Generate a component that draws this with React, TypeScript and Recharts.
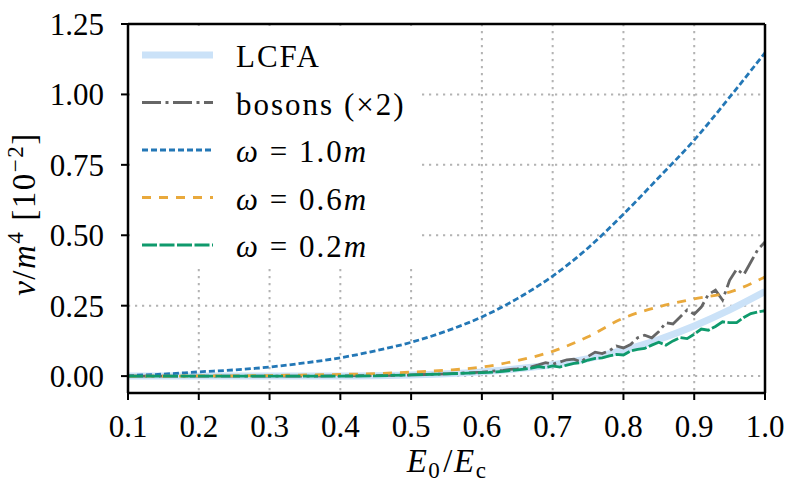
import { LineChart, Line, XAxis, YAxis, CartesianGrid, Legend, ReferenceLine } from 'recharts';

const FONT = '"Liberation Serif", "Times New Roman", serif';

const xTicks = [0.1, 0.2, 0.3, 0.4, 0.5, 0.6, 0.7, 0.8, 0.9, 1.0];
const yTicks = [0, 0.25, 0.5, 0.75, 1.0, 1.25];

// smooth curves
const xCoarse = [0.1, 0.15, 0.2, 0.25, 0.3, 0.35, 0.4, 0.45, 0.5, 0.55, 0.6, 0.65, 0.7, 0.75, 0.8, 0.85, 0.9, 0.95, 1.0];
const lcfa = [0, 0, 0, 0, 0, 0, 0, 0.001, 0.004, 0.008, 0.015, 0.026, 0.04, 0.062, 0.092, 0.13, 0.178, 0.235, 0.3];
const omega10 = [0.002, 0.007, 0.015, 0.022, 0.032, 0.047, 0.065, 0.09, 0.12, 0.16, 0.21, 0.275, 0.355, 0.455, 0.575, 0.705, 0.838, 0.99, 1.148];
const omega06 = [0, 0, 0.0005, 0.001, 0.002, 0.004, 0.006, 0.009, 0.014, 0.021, 0.032, 0.055, 0.088, 0.14, 0.206, 0.246, 0.274, 0.298, 0.352];

// wiggly curves
const xFine = [
  0.1, 0.15, 0.2, 0.25, 0.3, 0.35, 0.4, 0.45, 0.5, 0.55,
  0.6, 0.61, 0.62, 0.63, 0.64, 0.65, 0.66, 0.67, 0.68, 0.69,
  0.7, 0.71, 0.72, 0.73, 0.74, 0.75, 0.76, 0.77, 0.78, 0.79,
  0.8, 0.81, 0.82, 0.83, 0.84, 0.85, 0.86, 0.87, 0.88, 0.89,
  0.9, 0.91, 0.92, 0.93, 0.94, 0.95, 0.96, 0.97, 0.98, 0.99, 1.0,
];
const bosons = [
  0, 0, 0, 0, 0, 0, 0.001, 0.002, 0.004, 0.008,
  0.014, 0.016, 0.019, 0.02, 0.024, 0.026, 0.03, 0.033, 0.04, 0.048,
  0.042, 0.05, 0.058, 0.06, 0.05, 0.07, 0.085, 0.08, 0.09, 0.107,
  0.1, 0.112, 0.136, 0.145, 0.136, 0.158, 0.19, 0.185, 0.21, 0.235,
  0.22, 0.245, 0.29, 0.305, 0.27, 0.34, 0.38, 0.36, 0.405, 0.45, 0.476,
];
const omega02 = [
  0, 0, 0, 0, 0, 0, 0, 0.001, 0.004, 0.008,
  0.012, 0.013, 0.015, 0.017, 0.02, 0.022, 0.025, 0.028, 0.034, 0.03,
  0.036, 0.032, 0.039, 0.045, 0.048, 0.057, 0.063, 0.065, 0.072, 0.077,
  0.075, 0.089, 0.095, 0.098, 0.11, 0.12, 0.11, 0.125, 0.137, 0.133,
  0.149, 0.167, 0.163, 0.176, 0.193, 0.19, 0.19, 0.208, 0.222, 0.228, 0.232,
];

const toPoints = (xs: number[], ys: number[]) => xs.map((x, i) => ({ x, y: ys[i] }));

const series = [
  { key: 'lcfa', data: toPoints(xCoarse, lcfa), color: '#cbe2f8', width: 7, dash: undefined, type: 'monotone' },
  { key: 'bosons', data: toPoints(xFine, bosons), color: '#666666', width: 2.8, dash: '19 4.5 3 4.5', type: 'linear' },
  { key: 'w10', data: toPoints(xCoarse, omega10), color: '#2377b6', width: 2.8, dash: '6 3', type: 'monotone' },
  { key: 'w06', data: toPoints(xCoarse, omega06), color: '#e9a93c', width: 2.8, dash: '9 8', type: 'monotone' },
  { key: 'w02', data: toPoints(xFine, omega02), color: '#0f9a6c', width: 2.8, dash: '15 2.5', type: 'linear' },
];

const omegaLabel = (v: string) => (
  <>
    <tspan fontStyle="italic">ω</tspan> = {v}<tspan fontStyle="italic">m</tspan>
  </>
);

const legendLabels = [
  <>LCFA</>,
  <>bosons (×2)</>,
  omegaLabel('1.0'),
  omegaLabel('0.6'),
  omegaLabel('0.2'),
];

function LegendBox() {
  return (
    <svg width={290} height={242}>
      {series.map((s, i) => {
        const y = 29 + i * 47.5;
        return (
          <g key={s.key}>
            <line x1={12} x2={83} y1={y} y2={y} stroke={s.color} strokeWidth={s.width} strokeDasharray={s.dash} />
            <text x={106} y={y + 12} fontFamily={FONT} fontSize={31} letterSpacing={2} fill="#000">
              {legendLabels[i]}
            </text>
          </g>
        );
      })}
    </svg>
  );
}

export default function App() {
  return (
    <div style={{ position: 'absolute', left: 0, top: 0, width: 789, height: 488, background: '#fff' }}>
      <LineChart width={789} height={488} margin={{ top: 24, right: 24, left: 58, bottom: 35 }}>
        <CartesianGrid stroke="#b3b3b3" strokeWidth={2} strokeDasharray="2.2 4.8" />
        <XAxis
          dataKey="x"
          type="number"
          domain={[0.1, 1.0]}
          ticks={xTicks}
          allowDataOverflow
          height={60}
          tickFormatter={(v: number) => v.toFixed(1)}
          tick={{ fill: '#000', fontSize: 31, fontFamily: FONT }}
          tickSize={7}
          tickMargin={15}
          axisLine={{ stroke: '#000', strokeWidth: 2.5 }}
          tickLine={{ stroke: '#000', strokeWidth: 2 }}
        />
        <YAxis
          type="number"
          domain={[-0.06, 1.25]}
          ticks={yTicks}
          allowDataOverflow
          width={70}
          tickFormatter={(v: number) => v.toFixed(2)}
          tick={{ fill: '#000', fontSize: 31, fontFamily: FONT }}
          tickSize={7}
          tickMargin={17}
          axisLine={{ stroke: '#000', strokeWidth: 2.5 }}
          tickLine={{ stroke: '#000', strokeWidth: 2 }}
        />
        {series.map((s) => (
          <Line
            key={s.key}
            data={s.data}
            dataKey="y"
            type={s.type as 'monotone' | 'linear'}
            stroke={s.color}
            strokeWidth={s.width}
            strokeDasharray={s.dash}
            dot={false}
            activeDot={false}
            isAnimationActive={false}
          />
        ))}
        <ReferenceLine y={1.25} stroke="#000" strokeWidth={2.5} />
        <ReferenceLine x={1.0} stroke="#000" strokeWidth={2.5} />
        <Legend
          layout="horizontal"
          verticalAlign="middle"
          align="center"
          content={() => <LegendBox />}
          wrapperStyle={{ position: 'absolute', left: 130, top: 26, width: 290, height: 242, background: '#fff' }}
        />
      </LineChart>
      <svg width={789} height={488} style={{ position: 'absolute', left: 0, top: 0, pointerEvents: 'none' }}>
        <text
          x={35}
          y={214}
          transform="rotate(-90 35 214)"
          textAnchor="middle"
          fontFamily={FONT}
          fontSize={33}
          letterSpacing={1.5}
          fill="#000"
        >
          <tspan fontStyle="italic">ν</tspan>/<tspan fontStyle="italic">m</tspan>
          <tspan dy={-12} fontSize={23}>4</tspan>
          <tspan dy={12} dx={10}>[10</tspan>
          <tspan dy={-12} fontSize={23}>−2</tspan>
          <tspan dy={12}>]</tspan>
        </text>
        <text x={447} y={472} textAnchor="middle" fontFamily={FONT} fontSize={33} letterSpacing={1.5} fill="#000">
          <tspan fontStyle="italic">E</tspan>
          <tspan dy={6} fontSize={23}>0</tspan>
          <tspan dy={-6} dx={2}>/</tspan>
          <tspan fontStyle="italic">E</tspan>
          <tspan dy={6} fontSize={23}>c</tspan>
        </text>
      </svg>
    </div>
  );
}
